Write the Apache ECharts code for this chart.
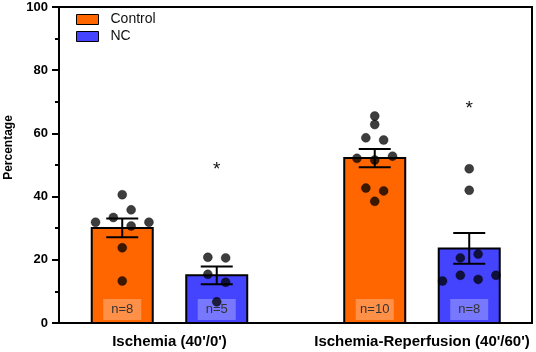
<!DOCTYPE html>
<html>
<head>
<meta charset="utf-8">
<script src="https://cdn.jsdelivr.net/npm/echarts@6/dist/echarts.min.js"></script>
<style>html,body{margin:0;padding:0;background:#fff}#c{width:536px;height:352px}</style>
</head>
<body>
<div id="c"></div>
<script>
// ---- data ----
const groups = ["Ischemia (40'/0')", "Ischemia-Reperfusion (40'/60')"];
const seriesNames = ['Control', 'NC'];
const controlMean = [30.1, 52.2];
const controlSem = [2.95, 2.9];
const ncMean = [15.1, 23.6];
const ncSem = [2.8, 4.85];
// individual points per group (values) and jitter slot
const controlIschPts = [40.6, 35.8, 33.4, 31.9, 31.9, 30.7, 23.8, 13.3];
const controlIschSlot = [0, 1, -1, -3, 3, 1, 0, 0];
const controlIRPts = [65.5, 62.8, 58.6, 57.9, 52.1, 51.6, 52.8, 42.7, 41.8, 38.5];
const controlIRSlot = [0, 0, -1, 1, -2, 0, 2, -1, 1, 0];
const ncIschPts = [20.8, 20.6, 15.4, 12.9, 6.7];
const ncIschSlot = [-1, 1, -1, 1, 0];
const ncIRPts = [48.8, 42.0, 20.6, 21.8, 15.1, 13.8, 13.3, 15.1];
const ncIRSlot = [0, 0, -1, 1, -1, 1, -3, 3];
const sigLabel = '*';
const ncSigY = [48.6, 67.7];
const yTicks = [0, 20, 40, 60, 80, 100];

// ---- styles ----
const FONT = "'Liberation Sans', Arial, Helvetica, sans-serif";
const colors = ['#FF6600', '#4444FF'];
const seriesOffsetPx = [-47.25, 47.25];
const barWidthPx = 61;
const capHalf = 16;
const dotStep = 8.9;
const dotR = 4.5;

const means = [controlMean, ncMean];
const sems = [controlSem, ncSem];
const pts = [[controlIschPts, controlIRPts], [ncIschPts, ncIRPts]];
const slots = [[controlIschSlot, controlIRSlot], [ncIschSlot, ncIRSlot]];

const chart = echarts.init(document.getElementById('c'), null, {renderer: 'canvas'});

function barSeries(s) {
  return {
    name: seriesNames[s],
    type: 'custom',
    itemStyle: {color: colors[s]},
    clip: false,
    data: groups.map((g, i) => [i, means[s][i], pts[s][i].length]),
    renderItem: function (params, api) {
      const g = api.value(0), m = api.value(1), n = api.value(2);
      const base = api.coord([g, 0]);
      const top = api.coord([g, m]);
      const cx = base[0] + seriesOffsetPx[s];
      return {
        type: 'group',
        children: [
          {type: 'rect', shape: {x: cx - barWidthPx / 2, y: top[1], width: barWidthPx, height: base[1] - top[1]},
           style: {fill: colors[s], stroke: '#000', lineWidth: 2}},
          {type: 'rect', shape: {x: cx - 19, y: base[1] - 24, width: 38, height: 21},
           style: {fill: 'rgba(255,255,255,0.28)'}},
          {type: 'text', style: {text: 'n=' + n, x: cx, y: base[1] - 13.5, align: 'center', verticalAlign: 'middle',
           font: '13px ' + FONT, fill: '#333'}}
        ]
      };
    }
  };
}

function errSeries(s) {
  return {
    type: 'custom',
    clip: false,
    silent: true,
    data: groups.map((g, i) => [i, means[s][i], sems[s][i]]),
    renderItem: function (params, api) {
      const g = api.value(0), m = api.value(1), e = api.value(2);
      const hi = api.coord([g, m + e]);
      const lo = api.coord([g, m - e]);
      const cx = hi[0] + seriesOffsetPx[s];
      const st = {stroke: '#000', lineWidth: 2};
      return {
        type: 'group',
        children: [
          {type: 'line', shape: {x1: cx, y1: hi[1], x2: cx, y2: lo[1]}, style: st},
          {type: 'line', shape: {x1: cx - capHalf, y1: hi[1], x2: cx + capHalf, y2: hi[1]}, style: st},
          {type: 'line', shape: {x1: cx - capHalf, y1: lo[1], x2: cx + capHalf, y2: lo[1]}, style: st}
        ]
      };
    }
  };
}

function dotSeries(s) {
  const data = [];
  groups.forEach((g, i) => pts[s][i].forEach((v, k) => data.push([i, v, slots[s][i][k]])));
  return {
    type: 'custom',
    clip: false,
    silent: true,
    data: data,
    renderItem: function (params, api) {
      const p = api.coord([api.value(0), api.value(1)]);
      const cx = p[0] + seriesOffsetPx[s] + api.value(2) * dotStep;
      return {type: 'circle', shape: {cx: cx, cy: p[1], r: dotR},
              style: {fill: 'rgba(0,0,0,0.76)', stroke: 'rgba(0,0,0,0.4)', lineWidth: 0.8}};
    }
  };
}

const sigSeries = {
  type: 'custom',
  clip: false,
  silent: true,
  data: groups.map((g, i) => [i, ncSigY[i]]),
  renderItem: function (params, api) {
    const p = api.coord([api.value(0), api.value(1)]);
    return {type: 'text', style: {text: sigLabel, x: p[0] + seriesOffsetPx[1], y: p[1], align: 'center',
            verticalAlign: 'middle', font: '19px ' + FONT, fill: '#111'}};
  }
};

const option = {
  animation: false,
  backgroundColor: '#fff',
  grid: {left: 59, right: 4, top: 7, bottom: 29, show: true, borderColor: '#000', borderWidth: 2, containLabel: false},
  legend: {
    data: seriesNames,
    orient: 'vertical',
    left: 76, top: 12.5,
    padding: 0,
    itemWidth: 22, itemHeight: 10, itemGap: 3,
    icon: 'rect',
    selectedMode: false,
    itemStyle: {borderColor: '#000', borderWidth: 1},
    textStyle: {fontFamily: FONT, fontSize: 14, color: '#111', lineHeight: 14, padding: [0, 0, 0, 7]}
  },
  xAxis: {
    type: 'value',
    min: -0.4376, max: 1.4357,
    axisLine: {show: true, onZero: false, lineStyle: {color: '#000', width: 2}},
    axisTick: {show: false},
    splitLine: {show: false},
    axisLabel: {
      customValues: [0, 1],
      formatter: v => groups[Math.round(v)],
      fontFamily: FONT, fontSize: 15, fontWeight: 'bold', color: '#000', margin: 11
    }
  },
  yAxis: {
    type: 'value',
    min: 0, max: 100, interval: 20,
    axisLine: {show: true, onZero: false, lineStyle: {color: '#000', width: 2}},
    axisTick: {show: true, length: 7, lineStyle: {color: '#000', width: 2}},
    minorTick: {show: true, splitNumber: 2, length: 4, lineStyle: {color: '#000', width: 2}},
    splitLine: {show: false},
    axisLabel: {fontFamily: FONT, fontSize: 13, fontWeight: 'bold', color: '#000', margin: 11,
      formatter: v => (yTicks.indexOf(v) >= 0 ? String(v) : '')}
  },
  graphic: [{
    type: 'text', x: 8.5, y: 147.5, rotation: Math.PI / 2,
    style: {text: 'Percentage', align: 'center', verticalAlign: 'middle', font: 'bold 12px ' + FONT, fill: '#000'}
  }],
  series: [barSeries(0), barSeries(1), errSeries(0), errSeries(1), dotSeries(0), dotSeries(1), sigSeries]
};
chart.setOption(option);
</script>
</body>
</html>
